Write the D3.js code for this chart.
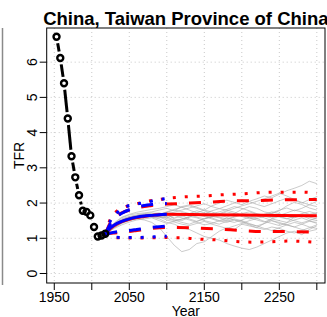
<!DOCTYPE html>
<html>
<head>
<meta charset="utf-8">
<script src="https://cdn.jsdelivr.net/npm/d3@7"></script>
<style>
  body { margin: 0; background: #fff; }
  svg { display: block; font-family: "Liberation Sans", Arial, Helvetica, sans-serif; }
</style>
</head>
<body>
<svg id="chart" width="327" height="317"></svg>
<script>
// observed TFR
var obsYears = [1953, 1958, 1963, 1968, 1973, 1978, 1983, 1988, 1993, 1998, 2003, 2008, 2013, 2018];
var obsTFR = [6.72, 6.12, 5.40, 4.40, 3.33, 2.73, 2.22, 1.78, 1.75, 1.65, 1.32, 1.05, 1.08, 1.13];

// trajectories (gray), common years
var trajYears = [2018, 2030, 2040, 2050, 2060, 2070, 2080, 2090, 2100, 2110, 2120, 2130, 2140, 2150,
  2160, 2170, 2180, 2190, 2200, 2210, 2220, 2230, 2240, 2250, 2260, 2270, 2280, 2290, 2300];
var trajectories = [
  [1.12, 1.35, 1.48, 1.56, 1.62, 1.64, 1.66, 1.70, 1.68, 1.55, 1.50, 1.60, 1.72, 1.80, 1.75, 1.66, 1.60, 1.70, 1.82, 1.90, 1.85, 1.75, 1.70, 1.78, 1.92, 2.02, 1.96, 1.86, 1.80],
  [1.12, 1.30, 1.42, 1.50, 1.55, 1.52, 1.45, 1.30, 1.05, 0.80, 0.62, 0.68, 0.85, 0.90, 1.05, 1.20, 1.30, 1.25, 1.40, 1.35, 1.30, 1.42, 1.55, 1.50, 1.45, 1.60, 1.65, 1.55, 1.50],
  [1.12, 1.38, 1.52, 1.60, 1.64, 1.66, 1.60, 1.55, 1.45, 1.40, 1.30, 1.25, 1.15, 1.05, 1.00, 0.95, 0.85, 0.78, 0.72, 0.68, 0.75, 0.85, 0.95, 1.05, 1.15, 1.20, 1.10, 1.25, 1.35],
  [1.12, 1.42, 1.58, 1.66, 1.70, 1.72, 1.75, 1.80, 1.85, 1.78, 1.90, 1.95, 1.88, 1.80, 1.92, 2.00, 2.08, 2.02, 1.95, 2.05, 2.12, 2.20, 2.15, 2.25, 2.35, 2.42, 2.50, 2.62, 2.55],
  [1.12, 1.32, 1.45, 1.52, 1.58, 1.62, 1.60, 1.58, 1.62, 1.70, 1.65, 1.55, 1.48, 1.55, 1.62, 1.58, 1.50, 1.45, 1.52, 1.60, 1.65, 1.58, 1.50, 1.42, 1.38, 1.45, 1.40, 1.32, 1.28],
  [1.12, 1.40, 1.55, 1.62, 1.66, 1.70, 1.72, 1.68, 1.75, 1.82, 1.88, 1.92, 1.85, 1.78, 1.70, 1.75, 1.82, 1.90, 1.85, 1.78, 1.70, 1.65, 1.72, 1.80, 1.86, 1.78, 1.85, 1.95, 2.05],
  [1.12, 1.28, 1.38, 1.46, 1.52, 1.55, 1.58, 1.50, 1.42, 1.48, 1.55, 1.62, 1.58, 1.50, 1.45, 1.40, 1.48, 1.55, 1.50, 1.42, 1.35, 1.28, 1.22, 1.30, 1.38, 1.32, 1.25, 1.20, 1.25],
  [1.12, 1.36, 1.50, 1.58, 1.63, 1.67, 1.70, 1.72, 1.65, 1.58, 1.62, 1.70, 1.78, 1.72, 1.65, 1.60, 1.55, 1.62, 1.70, 1.75, 1.68, 1.62, 1.58, 1.65, 1.72, 1.80, 1.75, 1.68, 1.72],
  [1.12, 1.34, 1.47, 1.55, 1.60, 1.63, 1.65, 1.62, 1.58, 1.65, 1.72, 1.68, 1.60, 1.55, 1.60, 1.68, 1.75, 1.70, 1.62, 1.55, 1.60, 1.68, 1.75, 1.70, 1.62, 1.58, 1.65, 1.60, 1.55],
  [1.12, 1.44, 1.60, 1.68, 1.74, 1.78, 1.82, 1.85, 1.90, 1.95, 1.88, 1.80, 1.72, 1.65, 1.58, 1.50, 1.45, 1.52, 1.48, 1.40, 1.35, 1.42, 1.50, 1.45, 1.38, 1.32, 1.40, 1.48, 1.45],
  [1.12, 1.30, 1.44, 1.52, 1.56, 1.58, 1.62, 1.66, 1.60, 1.52, 1.45, 1.40, 1.48, 1.56, 1.62, 1.70, 1.78, 1.85, 1.92, 1.98, 2.05, 2.12, 2.20, 2.28, 2.20, 2.10, 2.02, 1.95, 1.90],
  [1.12, 1.37, 1.50, 1.57, 1.61, 1.64, 1.62, 1.66, 1.72, 1.65, 1.58, 1.52, 1.45, 1.38, 1.42, 1.50, 1.58, 1.52, 1.45, 1.38, 1.30, 1.25, 1.32, 1.28, 1.20, 1.15, 1.22, 1.30, 1.38],
  [1.12, 1.33, 1.46, 1.54, 1.59, 1.61, 1.64, 1.68, 1.74, 1.80, 1.76, 1.70, 1.64, 1.70, 1.78, 1.84, 1.80, 1.74, 1.66, 1.60, 1.56, 1.62, 1.68, 1.60, 1.55, 1.62, 1.70, 1.76, 1.70],
  [1.12, 1.39, 1.53, 1.60, 1.65, 1.68, 1.66, 1.60, 1.52, 1.46, 1.40, 1.36, 1.42, 1.48, 1.40, 1.34, 1.28, 1.35, 1.42, 1.50, 1.56, 1.48, 1.42, 1.36, 1.44, 1.52, 1.58, 1.50, 1.42],
  [1.12, 1.31, 1.43, 1.51, 1.57, 1.60, 1.63, 1.67, 1.70, 1.74, 1.80, 1.86, 1.92, 1.98, 1.90, 1.84, 1.92, 2.00, 2.10, 2.04, 1.96, 1.90, 1.98, 2.06, 2.14, 2.08, 2.00, 2.10, 2.18],
  [1.12, 1.36, 1.49, 1.57, 1.61, 1.63, 1.60, 1.62, 1.56, 1.50, 1.54, 1.60, 1.66, 1.62, 1.55, 1.48, 1.52, 1.60, 1.66, 1.58, 1.52, 1.46, 1.55, 1.62, 1.56, 1.50, 1.44, 1.50, 1.58]
];

// red projection: [year, value]
var redMedian = [[2018, 1.12], [2025, 1.28], [2030, 1.36], [2040, 1.47], [2050, 1.54], [2060, 1.59], [2070, 1.62],
  [2080, 1.65], [2090, 1.67], [2100, 1.68], [2150, 1.67], [2200, 1.66], [2250, 1.65], [2300, 1.64]];
var red80Upper = [[2018, 1.12], [2025, 1.45], [2030, 1.58], [2040, 1.72], [2050, 1.80], [2060, 1.86], [2070, 1.90],
  [2080, 1.93], [2090, 1.96], [2100, 1.97], [2130, 2.00], [2160, 2.03], [2190, 2.06], [2220, 2.07], [2250, 2.09], [2300, 2.10]];
var red80Lower = [[2018, 1.12], [2025, 1.14], [2030, 1.15], [2040, 1.17], [2050, 1.19], [2060, 1.22], [2070, 1.25],
  [2080, 1.28], [2090, 1.30], [2100, 1.31], [2140, 1.29], [2170, 1.26], [2200, 1.22], [2230, 1.19], [2260, 1.19], [2300, 1.17]];
var red95Upper = [[2018, 1.12], [2025, 1.55], [2030, 1.70], [2040, 1.85], [2050, 1.93], [2060, 1.98], [2070, 2.03],
  [2080, 2.07], [2090, 2.10], [2100, 2.13], [2120, 2.17], [2150, 2.20], [2170, 2.23], [2200, 2.26], [2230, 2.30],
  [2260, 2.31], [2280, 2.31], [2300, 2.28]];
var red95Lower = [[2018, 1.12], [2025, 1.04], [2030, 1.02], [2050, 1.01], [2075, 1.01], [2100, 1.02], [2120, 1.01],
  [2140, 0.98], [2170, 0.95], [2200, 0.90], [2215, 0.89], [2240, 0.90], [2260, 0.92], [2280, 0.91], [2300, 0.88]];

// blue projection: [year, value]
var blueMedian = [[2018, 1.12], [2025, 1.30], [2030, 1.38], [2040, 1.48], [2050, 1.55], [2060, 1.60], [2070, 1.63],
  [2080, 1.65], [2090, 1.67], [2100, 1.68]];
var blue80Upper = [[2018, 1.12], [2025, 1.42], [2030, 1.56], [2040, 1.71], [2050, 1.81], [2060, 1.88], [2070, 1.93],
  [2080, 1.96], [2090, 1.98], [2100, 1.99]];
var blue80Lower = [[2018, 1.12], [2025, 1.15], [2030, 1.17], [2040, 1.20], [2050, 1.22], [2060, 1.25], [2070, 1.28],
  [2080, 1.31], [2090, 1.33], [2100, 1.34]];
var blue95Upper = [[2018, 1.12], [2025, 1.50], [2033, 1.71], [2046, 1.90], [2060, 1.97], [2076, 2.04], [2090, 2.10], [2100, 2.13]];
var blue95Lower = [[2018, 1.12], [2025, 1.05], [2030, 1.03], [2050, 1.02], [2075, 1.03], [2090, 1.05], [2100, 1.06]];

var xTicks = [1950, 2000, 2050, 2100, 2150, 2200, 2250, 2300];
var xLabels = [1950, 2050, 2150, 2250];
var yTicks = [0, 1, 2, 3, 4, 5, 6];

var title = "China, Taiwan Province of China";

var plot = { left: 46.7, right: 325, top: 28, bottom: 283 };

var svg = d3.select("#chart");

var x = d3.scaleLinear().domain([1939.9, 2310.9]).range([plot.left, plot.right]);
var y = d3.scaleLinear().domain([-0.27, 6.97]).range([plot.bottom, plot.top]);

// stray border from neighbouring panel
svg.append("line")
  .attr("x1", 2.5).attr("x2", 2.5)
  .attr("y1", plot.top).attr("y2", plot.bottom + 2)
  .attr("stroke", "#8a8a8a")
  .attr("stroke-width", 1.5);

// grid
var grid = svg.append("g").attr("stroke", "#c8c8c8").attr("stroke-dasharray", "1,3");
xTicks.forEach(function(t) {
  grid.append("line")
    .attr("x1", x(t)).attr("x2", x(t))
    .attr("y1", plot.top).attr("y2", plot.bottom);
});
yTicks.forEach(function(t) {
  grid.append("line")
    .attr("x1", plot.left).attr("x2", plot.right)
    .attr("y1", y(t)).attr("y2", y(t));
});

var clip = svg.append("defs").append("clipPath").attr("id", "clip");
clip.append("rect")
  .attr("x", plot.left).attr("y", plot.top)
  .attr("width", plot.right - plot.left).attr("height", plot.bottom - plot.top);

var g = svg.append("g").attr("clip-path", "url(#clip)");

var pairLine = d3.line()
  .x(function(d) { return x(d[0]); })
  .y(function(d) { return y(d[1]); })
  .curve(d3.curveMonotoneX);

// gray trajectories
trajectories.forEach(function(tr) {
  g.append("path")
    .datum(tr.map(function(v, i) { return [trajYears[i], v]; }))
    .attr("d", d3.line().x(function(d) { return x(d[0]); }).y(function(d) { return y(d[1]); }))
    .attr("fill", "none")
    .attr("stroke", "#a8a8a8")
    .attr("stroke-opacity", 0.6)
    .attr("stroke-width", 1);
});

function drawSeries(data, color, dash) {
  g.append("path")
    .datum(data)
    .attr("d", pairLine)
    .attr("fill", "none")
    .attr("stroke", color)
    .attr("stroke-width", 3)
    .attr("stroke-dasharray", dash);
}

drawSeries(red95Upper, "#ff0000", "3,9");
drawSeries(red95Lower, "#ff0000", "3,9");
drawSeries(red80Upper, "#ff0000", "12,12");
drawSeries(red80Lower, "#ff0000", "12,12");
drawSeries(redMedian, "#ff0000", null);

drawSeries(blue95Upper, "#0000ff", "3,9");
drawSeries(blue95Lower, "#0000ff", "3,9");
drawSeries(blue80Upper, "#0000ff", "12,12");
drawSeries(blue80Lower, "#0000ff", "12,12");
drawSeries(blueMedian, "#0000ff", null);

// observed: type "b" — segments with gaps around the points
var pts = obsYears.map(function(yr, i) { return [x(yr), y(obsTFR[i])]; });
var gap = 6.5;
for (var i = 0; i < pts.length - 1; i++) {
  var p0 = pts[i], p1 = pts[i + 1];
  var dx = p1[0] - p0[0], dy = p1[1] - p0[1];
  var len = Math.sqrt(dx * dx + dy * dy);
  if (len <= 2 * gap) continue;
  var ux = dx / len, uy = dy / len;
  g.append("line")
    .attr("x1", p0[0] + ux * gap).attr("y1", p0[1] + uy * gap)
    .attr("x2", p1[0] - ux * gap).attr("y2", p1[1] - uy * gap)
    .attr("stroke", "#000")
    .attr("stroke-width", 3);
}
g.selectAll("circle.obs")
  .data(pts)
  .enter()
  .append("circle")
  .attr("class", "obs")
  .attr("cx", function(d) { return d[0]; })
  .attr("cy", function(d) { return d[1]; })
  .attr("r", 3)
  .attr("fill", "none")
  .attr("stroke", "#000")
  .attr("stroke-width", 2.4);

// box
svg.append("rect")
  .attr("x", plot.left).attr("y", plot.top)
  .attr("width", plot.right - plot.left).attr("height", plot.bottom - plot.top)
  .attr("fill", "none")
  .attr("stroke", "#000")
  .attr("stroke-width", 1);

// x axis
var xAxis = svg.append("g");
xTicks.forEach(function(t) {
  xAxis.append("line")
    .attr("x1", x(t)).attr("x2", x(t))
    .attr("y1", plot.bottom).attr("y2", plot.bottom + 7)
    .attr("stroke", "#000");
});
xAxis.selectAll("text")
  .data(xLabels)
  .enter()
  .append("text")
  .attr("x", function(d) { return x(d); })
  .attr("y", 302)
  .attr("text-anchor", "middle")
  .attr("font-size", 14)
  .text(function(d) { return d; });

// y axis
var yAxis = svg.append("g");
yTicks.forEach(function(t) {
  yAxis.append("line")
    .attr("x1", plot.left - 7).attr("x2", plot.left)
    .attr("y1", y(t)).attr("y2", y(t))
    .attr("stroke", "#000");
});
yAxis.selectAll("text")
  .data(yTicks)
  .enter()
  .append("text")
  .attr("transform", function(d) { return "translate(37," + y(d) + ") rotate(-90)"; })
  .attr("text-anchor", "middle")
  .attr("font-size", 14)
  .text(function(d) { return d; });

// axis titles
svg.append("text")
  .attr("x", (plot.left + plot.right) / 2)
  .attr("y", 315.5)
  .attr("text-anchor", "middle")
  .attr("font-size", 14)
  .text("Year");

svg.append("text")
  .attr("transform", "translate(24," + (plot.top + plot.bottom) / 2 + ") rotate(-90)")
  .attr("text-anchor", "middle")
  .attr("font-size", 14)
  .text("TFR");

// title runs past the right edge, as in the reference
svg.append("text")
  .attr("x", (plot.left + plot.right) / 2)
  .attr("y", 25)
  .attr("text-anchor", "middle")
  .attr("font-size", 18.5)
  .attr("font-weight", "bold")
  .text(title);
</script>
</body>
</html>
